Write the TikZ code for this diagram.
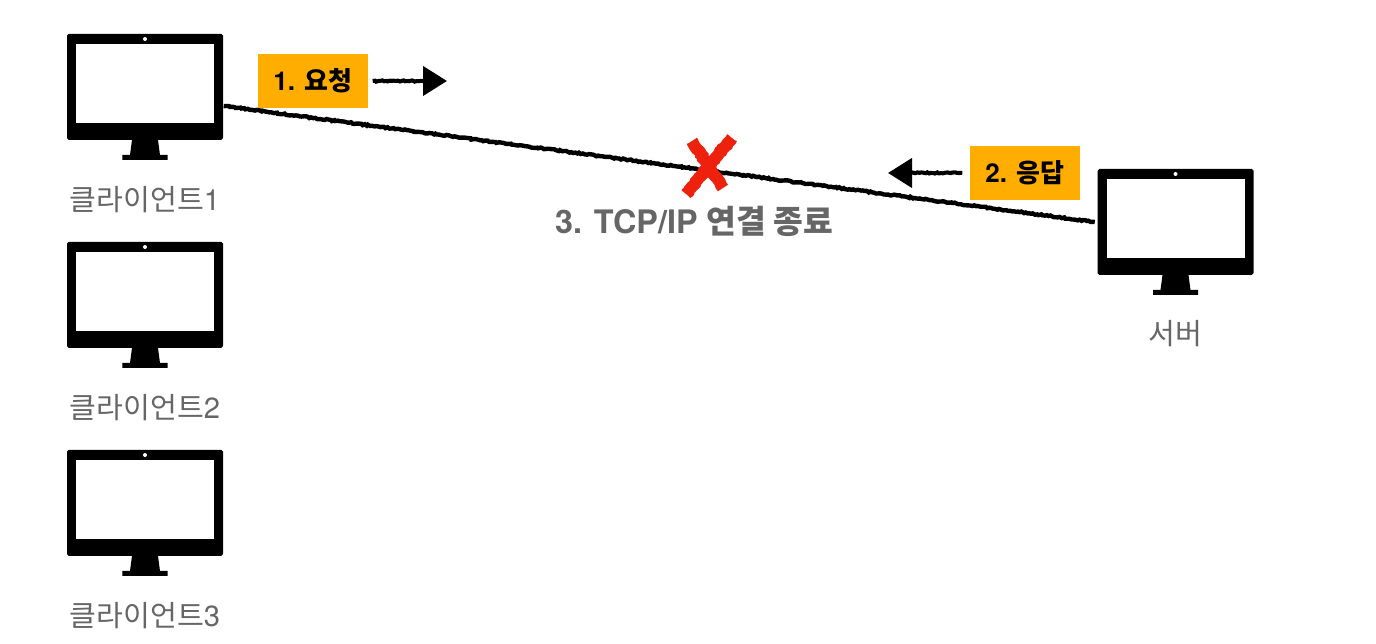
\documentclass[tikz,border=0pt]{standalone}
\usepackage{fontspec}
\setmainfont{TeX Gyre Heros}
\newfontfamily\krfont{Noto Sans CJK KR}
\usetikzlibrary{arrows.meta,decorations.pathmorphing}
\definecolor{tagorange}{HTML}{FFAE00}
\definecolor{labelgray}{HTML}{666666}
\definecolor{crossred}{HTML}{EE220C}
\tikzset{
	rough/.style={decorate, decoration={random steps, segment length=.55pt, amplitude=.2pt, pre length=.3pt, post length=.3pt}},
	wire/.style={rough, line width=1.25pt, black},
	msgarrow/.style={decorate, decoration={random steps, segment length=.55pt, amplitude=.2pt, post length=2mm}, line width=1.15pt, black, -{Triangle[length=2.4mm, width=2.9mm]}},
	tag/.style={fill=tagorange, minimum width=1.1cm, minimum height=.54cm, inner sep=0pt, font=\fontsize{7.4}{9}\selectfont\bfseries},
	caption/.style={text=labelgray, inner sep=0pt, font=\fontsize{8.3}{10}\selectfont},
	crossbar/.style={crossred, line width=3.4pt, rough},
	pics/monitor/.style={code={
		\node[fill=black, rounded corners=.5pt, minimum width=1.56cm, minimum height=1.06cm, inner sep=0pt] (body) at (0,0) {};
		\fill[white] (-.69,.43) rectangle (.69,-.36);
		\fill[white] (0,.48) circle (.02);
		\fill[black] (-.13,-.53) -- (.13,-.53) -- (.15,-.68) -- (.225,-.68) -- (.225,-.73) -- (-.225,-.73) -- (-.225,-.68) -- (-.15,-.68) -- cycle;
	}},
}
\begin{document}
\begin{tikzpicture}
	\useasboundingbox (0,0) rectangle (13.76,6.44);
	% machines
	\foreach \n/\y in {1/5.57,2/3.49,3/1.41}{
		\pic (client\n) at (1.45,\y) {monitor};
		\node[caption] (name\n) at (1.45,\y-1.13) {{\krfont 클라이언트}\n};
	}
	\pic (server) at (11.755,4.22) {monitor};
	\node[caption] (servername) at (11.755,3.10) {\krfont 서버};
	% connection
	\draw[wire] ([yshift=-.19cm]client1body.east) -- ([xshift=-.02cm]serverbody.west);
	% messages
	\node[tag] (req) at (3.13,5.63) {1. {\krfont 요청}};
	\node[tag] (res) at (10.25,4.71) {2. {\krfont 응답}};
	\coordinate (reqend) at (4.47,5.63);
	\coordinate (resend) at (8.88,4.71);
	\draw[msgarrow] ([xshift=.04cm]req.east) -- (reqend);
	\draw[msgarrow] ([xshift=-.07cm]res.west) -- (resend);
	% closed
	\coordinate (cut) at (7.07,4.77);
	\draw[crossbar] ([shift={(-.15,.26)}]cut) -- ([shift={(.16,-.21)}]cut);
	\draw[crossbar] ([shift={(.25,.29)}]cut) -- ([shift={(-.21,-.27)}]cut);
	\node[caption, font=\fontsize{9.2}{10}\selectfont\bfseries] (closed) at (6.94,4.23) {3. TCP/IP {\krfont 연결 종료}};
\end{tikzpicture}
\end{document}
